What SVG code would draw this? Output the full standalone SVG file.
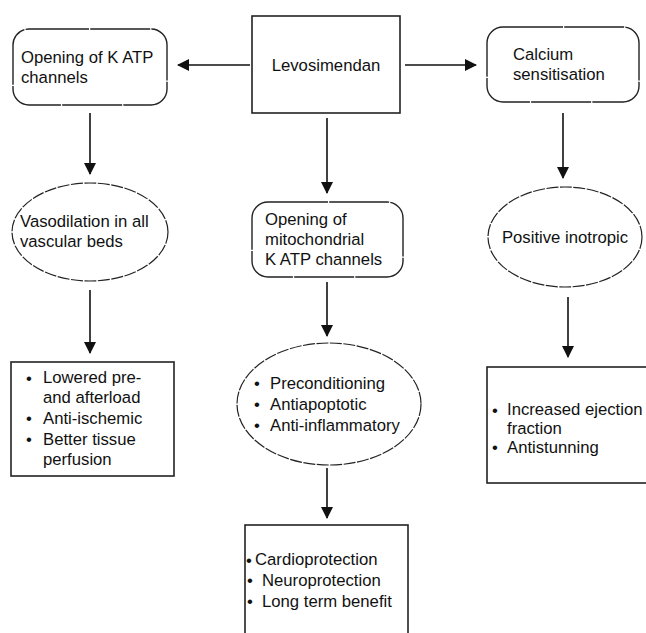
<svg xmlns="http://www.w3.org/2000/svg" width="646" height="633" viewBox="0 0 646 633">
<defs>
<marker id="ah" viewBox="0 0 12 12" refX="11" refY="6" markerWidth="12" markerHeight="12" markerUnits="userSpaceOnUse" orient="auto">
<path d="M0,0 L12,6 L0,12 Z" fill="#111"/>
</marker>
<style>
text{font-family:"Liberation Sans",Arial,sans-serif;font-size:16.7px;fill:#111}
.box{fill:#fff;stroke:#222;stroke-width:1.6}
.rbox{fill:#fff;stroke:#222;stroke-width:1.4;stroke-dasharray:60 1.2}
.ell{fill:#fff;stroke:#222;stroke-width:1.2;stroke-dasharray:12 1.5}
.conn line{stroke:#111;stroke-width:1.6;marker-end:url(#ah)}
</style>
</defs>
<rect width="646" height="633" fill="#fff"/>
<g class="conn" id="connectors">
<line x1="250" y1="65" x2="178" y2="65"/>
<line x1="405" y1="65" x2="476" y2="65"/>
<line x1="90" y1="113" x2="90" y2="174"/>
<line x1="327" y1="118" x2="327" y2="193"/>
<line x1="563" y1="113" x2="563" y2="178"/>
<line x1="90" y1="290" x2="90" y2="353"/>
<line x1="327" y1="282" x2="327" y2="336"/>
<line x1="568" y1="297" x2="568" y2="357"/>
<line x1="327" y1="468" x2="327" y2="518"/>
</g>
<g id="levosimendan">
<rect class="box" x="252" y="16" width="148" height="97"/>
<text x="326" y="71" text-anchor="middle">Levosimendan</text>
</g>
<g id="katp">
<rect class="rbox" x="13" y="29" width="154" height="76" rx="16"/>
<text x="21" y="63">Opening of K ATP</text>
<text x="21" y="83">channels</text>
</g>
<g id="calcium">
<rect class="rbox" x="487" y="27" width="152" height="75" rx="16"/>
<text x="513" y="60">Calcium</text>
<text x="513" y="80">sensitisation</text>
</g>
<g id="vasodilation">
<ellipse class="ell" cx="90" cy="232" rx="78" ry="49"/>
<text x="20" y="227">Vasodilation in all</text>
<text x="20" y="247">vascular beds</text>
</g>
<g id="mito">
<rect class="rbox" x="252" y="202" width="151" height="75" rx="16"/>
<text x="265" y="225">Opening of</text>
<text x="265" y="245">mitochondrial</text>
<text x="265" y="265">K ATP channels</text>
</g>
<g id="inotropic">
<ellipse class="ell" cx="565" cy="237" rx="77" ry="50"/>
<text x="565" y="243" text-anchor="middle">Positive inotropic</text>
</g>
<g id="vaso-effects">
<rect class="box" x="11" y="362" width="163" height="114"/>
<text x="26" y="384">•</text>
<text x="43" y="383">Lowered pre-</text>
<text x="43" y="403">and afterload</text>
<text x="26" y="424">•</text>
<text x="43" y="424">Anti-ischemic</text>
<text x="26" y="445">•</text>
<text x="43" y="445">Better tissue</text>
<text x="43" y="465">perfusion</text>
</g>
<g id="mito-effects">
<ellipse class="ell" cx="329" cy="404" rx="92" ry="61"/>
<text x="254" y="389">•</text>
<text x="270" y="389">Preconditioning</text>
<text x="254" y="410">•</text>
<text x="270" y="410">Antiapoptotic</text>
<text x="254" y="431">•</text>
<text x="270" y="431">Anti-inflammatory</text>
</g>
<g id="inotropic-effects">
<rect class="box" x="487" y="367" width="170" height="116"/>
<text x="492" y="416">•</text>
<text x="507" y="415">Increased ejection</text>
<text x="507" y="434">fraction</text>
<text x="492" y="453">•</text>
<text x="507" y="453">Antistunning</text>
</g>
<g id="protection">
<rect class="box" x="245" y="525" width="163" height="120"/>
<text x="246" y="566">•</text>
<text x="255" y="565">Cardioprotection</text>
<text x="247" y="586">•</text>
<text x="262" y="586">Neuroprotection</text>
<text x="247" y="607">•</text>
<text x="262" y="607">Long term benefit</text>
</g>
</svg>
